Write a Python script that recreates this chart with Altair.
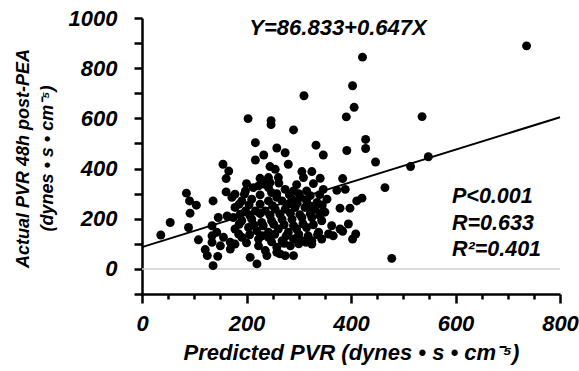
import altair as alt
import pandas as pd

# Predicted PVR (x) and actual PVR 48h post-PEA (y)
predicted = [
    736, 422, 403, 406, 391, 536, 310, 247, 247, 290, 333, 428, 258, 392, 428, 447, 548, 514, 465, 478,
    203, 217, 274, 347, 233, 217, 280, 245, 255, 306, 325, 226, 341,
    384, 373, 389, 411, 421, 379, 398, 350, 363, 395, 357, 366, 384, 409, 403,
    155, 166, 161, 85, 91, 104, 92, 136, 161, 172, 54, 36, 89, 108, 121, 125, 145, 136, 134,
    198, 223, 229, 245, 207, 220, 239, 258, 379,
    264, 274, 290,
    242, 261, 309,
    213, 242, 248, 274, 290, 315, 347, 178,
    191, 210, 226, 242, 258, 268, 287, 303, 315, 335, 354,
    178, 198, 217, 236, 255, 274, 293, 312, 331, 347,
    191, 210, 229, 248, 268, 287, 306, 325, 344,
    178, 204, 220, 242, 261, 280, 296, 315, 338,
    191, 223, 242, 268, 290, 306, 325, 344,
    178, 223, 236, 258, 284, 325,
    146, 163, 143, 156, 134, 150, 169, 175, 169, 134,
    200, 232, 262, 296, 328,
    196, 226, 258, 282, 300, 322, 340,
    186, 205, 250, 280, 297, 324, 345,
    188, 206, 226, 245, 264, 284, 302, 322, 340,
    186, 214, 232, 252, 272, 290, 308, 328,
    185, 206, 230, 254, 276, 300, 318, 336,
    200, 248, 272, 300, 314,
]
actual = [
    889, 844, 730, 644, 606, 607, 690, 591, 575, 554, 493, 516, 482, 472, 480, 426, 447, 408, 324, 42,
    599, 503, 463, 454, 454, 434, 417, 408, 397, 388, 388, 361, 361,
    360, 313, 317, 271, 282, 242, 242, 226, 172, 179, 139, 132, 150, 139, 119,
    417, 390, 360, 302, 271, 254, 222, 271, 307, 285, 185, 135, 165, 116, 77, 53, 50, 13, 172,
    311, 331, 350, 344, 46, 20, 53, 66, 159,
    60, 53, 53,
    364, 364, 364,
    324, 324, 304, 317, 311, 311, 317, 298,
    271, 278, 258, 271, 285, 271, 278, 285, 271, 265, 278,
    245, 231, 231, 231, 238, 238, 245, 245, 238, 231,
    192, 198, 185, 192, 198, 198, 205, 205, 192,
    159, 165, 152, 146, 159, 146, 159, 165, 146,
    126, 119, 126, 112, 119, 112, 112, 119,
    99, 92, 73, 86, 92, 99,
    205, 211, 146, 126, 132, 92, 106, 205, 79, 106,
    340, 338, 342, 336, 340,
    298, 295, 300, 296, 300, 292, 296,
    258, 255, 252, 258, 262, 250, 255,
    218, 215, 220, 214, 218, 222, 216, 220, 214,
    178, 175, 172, 178, 176, 172, 180, 176,
    139, 136, 132, 138, 132, 138, 132, 136,
    104, 108, 102, 100, 106,
]

intercept = 86.833
slope = 0.647
line_x = [0, 800]

x_ticks = list(range(0, 801, 50))
y_ticks = list(range(-100, 1001, 100))

equation_text = ["Y=86.833+0.647X"]
stats_text = ["P<0.001\nR=0.633\nR²=0.401"]

FONT = "Liberation Sans"

df = pd.DataFrame({"pred": predicted, "actual": actual})
line_df = pd.DataFrame({"pred": line_x})

x_scale = alt.Scale(domain=[0, 800], nice=False, zero=False)
y_scale = alt.Scale(domain=[-100, 1000], nice=False, zero=False)

x_axis = alt.Axis(
    values=x_ticks, format="d",
    labelExpr="datum.value % 200 === 0 ? datum.label : ''",
    grid=False,
    domainColor="black", domainWidth=2.5,
    tickColor="black", tickWidth=2.5,
    tickSize={"condition": {"test": "datum.value % 200 === 0", "value": 9}, "value": 5},
    labelFont=FONT, labelFontSize=22, labelFontStyle="italic", labelFontWeight="bold",
    labelColor="black", labelPadding=10, labelFlush=False, labelOverlap=False,
    title="Predicted PVR (dynes • s • cm⁻⁵)",
    titleFont=FONT, titleFontSize=22, titleFontStyle="italic", titleFontWeight="bold",
    titleColor="black", titlePadding=8,
)
y_axis = alt.Axis(
    values=y_ticks, format="d",
    labelExpr="datum.value >= 0 && datum.value % 200 === 0 ? datum.label : ''",
    grid=False,
    domainColor="black", domainWidth=2.5,
    tickColor="black", tickWidth=2.5, tickSize=8,
    labelFont=FONT, labelFontSize=22, labelFontStyle="italic", labelFontWeight="bold",
    labelColor="black", labelPadding=17, labelFlush=False, labelOverlap=False,
    title=["Actual PVR 48h post-PEA", "(dynes • s • cm⁻⁵)"],
    titleFont=FONT, titleFontSize=18, titleFontStyle="italic", titleFontWeight="bold",
    titleColor="black", titlePadding=12, titleLineHeight=24, titleY=140,
)

zero_rule = alt.Chart(pd.DataFrame({"v": [0]})).mark_rule(color="#cfcfcf", strokeWidth=1.5).encode(
    y=alt.Y("v:Q", scale=y_scale, axis=y_axis)
)

points = alt.Chart(df).mark_circle(size=80, color="black", opacity=1).encode(
    x=alt.X("pred:Q", scale=x_scale, axis=x_axis),
    y=alt.Y("actual:Q", scale=y_scale, axis=y_axis),
)

fit = alt.Chart(line_df).transform_calculate(
    fit=f"{intercept} + {slope} * datum.pred"
).mark_line(color="black", strokeWidth=2).encode(
    x=alt.X("pred:Q", scale=x_scale, axis=x_axis),
    y=alt.Y("fit:Q", scale=y_scale, axis=y_axis),
)

eq = alt.Chart(pd.DataFrame({"t": equation_text})).mark_text(
    font=FONT, fontSize=22, fontStyle="italic", fontWeight="bold", color="black",
    align="center", baseline="middle",
).encode(text="t:N", x=alt.value(196), y=alt.value(10))

stats = alt.Chart(pd.DataFrame({"t": stats_text})).mark_text(
    font=FONT, fontSize=21.5, fontStyle="italic", fontWeight="bold", color="black",
    align="left", baseline="top", lineBreak="\n", lineHeight=26.5,
).encode(text="t:N", x=alt.value(310), y=alt.value(168))

chart = alt.layer(zero_rule, fit, points, eq, stats).properties(
    width=418, height=276,
    autosize=alt.AutoSizeParams(type="none"),
    padding={"left": 142, "top": 18, "right": 19, "bottom": 77},
).configure_view(stroke=None)

chart.save("out.html", embed_options={"renderer": "svg", "actions": False})
